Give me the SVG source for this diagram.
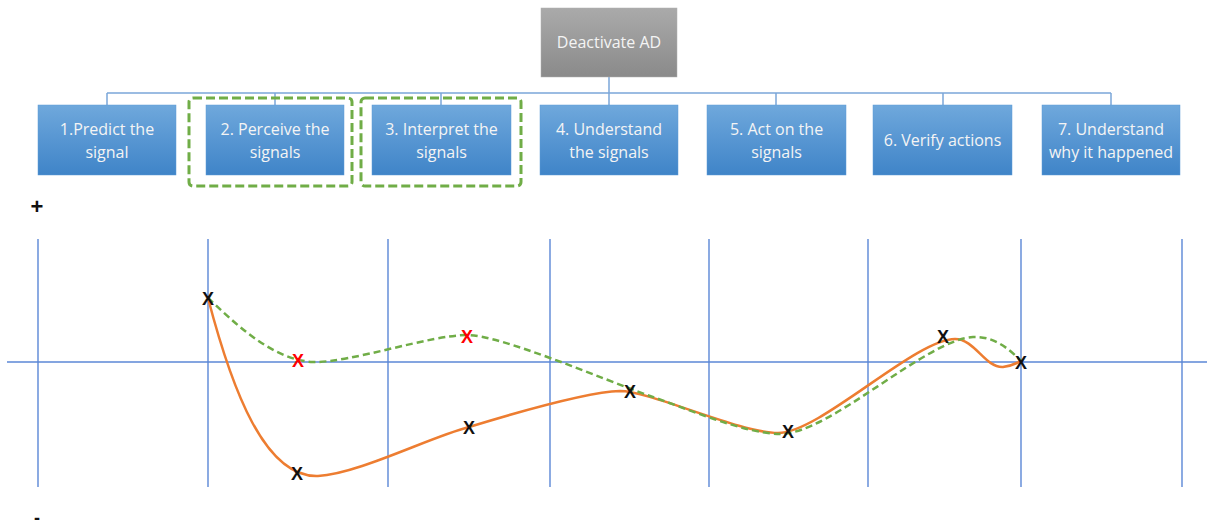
<svg xmlns="http://www.w3.org/2000/svg" width="1207" height="529" viewBox="0 0 1207 529">
<defs>
<linearGradient id="gb" x1="0" y1="0" x2="0" y2="1"><stop offset="0" stop-color="#6fa8dc"/><stop offset="1" stop-color="#3f84c8"/></linearGradient>
<linearGradient id="gg" x1="0" y1="0" x2="0" y2="1"><stop offset="0" stop-color="#aaaaaa"/><stop offset="1" stop-color="#8a8a8a"/></linearGradient>
<style>
.box{fill:url(#gb);stroke:#5d9ad6;stroke-width:0.5}
.top{fill:url(#gg);stroke:#b0b0b0;stroke-width:0.5}
.lbl{font-family:"Open Sans","Noto Sans",sans-serif;font-size:16px;fill:#f4f4f4;text-anchor:middle}
.con{stroke:#7aa6d9;stroke-width:1.5;fill:none}
.hl{fill:none;stroke:#70ad47;stroke-width:3;stroke-dasharray:9 4}
.grid{stroke:#5b87d6;stroke-width:1.4}
.x{font-family:"Liberation Sans",Arial,sans-serif;font-size:18px;font-weight:bold;text-anchor:middle;fill:#111}
.xr{fill:#ff0000}
.sign{font-family:"Liberation Sans",Arial,sans-serif;font-weight:bold;fill:#111;text-anchor:middle}
</style>
</defs>
<rect width="1207" height="529" fill="#ffffff"/>
<g id="connectors">
<line class="con" x1="107" y1="93" x2="1111" y2="93"/>
<line class="con" x1="609" y1="77" x2="609" y2="105"/>
<line class="con" x1="107" y1="93" x2="107" y2="105"/>
<line class="con" x1="275" y1="93" x2="275" y2="105"/>
<line class="con" x1="441" y1="93" x2="441" y2="105"/>
<line class="con" x1="776" y1="93" x2="776" y2="105"/>
<line class="con" x1="943" y1="93" x2="943" y2="105"/>
<line class="con" x1="1111" y1="93" x2="1111" y2="105"/>
</g>
<g id="root"><rect class="top" x="541" y="8" width="136" height="69"/><text class="lbl" x="609" y="48">Deactivate AD</text></g>
<g id="n1"><rect class="box" x="38" y="105" width="138" height="70"/><text class="lbl" x="107" y="135">1.Predict the</text><text class="lbl" x="107" y="158">signal</text></g>
<g id="n2"><rect class="box" x="206" y="105" width="138" height="70"/><text class="lbl" x="275" y="135">2. Perceive the</text><text class="lbl" x="275" y="158">signals</text></g>
<g id="n3"><rect class="box" x="372" y="105" width="139" height="70"/><text class="lbl" x="441.5" y="135">3. Interpret the</text><text class="lbl" x="441.5" y="158">signals</text></g>
<g id="n4"><rect class="box" x="540" y="105" width="138" height="70"/><text class="lbl" x="609" y="135">4. Understand</text><text class="lbl" x="609" y="158">the signals</text></g>
<g id="n5"><rect class="box" x="707" y="105" width="139" height="70"/><text class="lbl" x="776.5" y="135">5. Act on the</text><text class="lbl" x="776.5" y="158">signals</text></g>
<g id="n6"><rect class="box" x="873" y="105" width="139" height="70"/><text class="lbl" x="942.5" y="146">6. Verify actions</text></g>
<g id="n7"><rect class="box" x="1042" y="105" width="138" height="70"/><text class="lbl" x="1111" y="135">7. Understand</text><text class="lbl" x="1111" y="158">why it happened</text></g>
<g id="highlights">
<rect class="hl" x="189" y="98" width="163" height="88" rx="4"/>
<rect class="hl" x="361" y="98" width="160" height="88" rx="4"/>
</g>
<g id="chart">
<line class="grid" x1="7" y1="362" x2="1207" y2="362"/>
<line class="grid" x1="38" y1="239" x2="38" y2="487"/>
<line class="grid" x1="208" y1="239" x2="208" y2="487"/>
<line class="grid" x1="388" y1="239" x2="388" y2="487"/>
<line class="grid" x1="550" y1="239" x2="550" y2="487"/>
<line class="grid" x1="709" y1="239" x2="709" y2="487"/>
<line class="grid" x1="868" y1="239" x2="868" y2="487"/>
<line class="grid" x1="1021" y1="239" x2="1021" y2="487"/>
<line class="grid" x1="1182" y1="239" x2="1182" y2="487"/>
<text class="sign" x="37" y="214" font-size="22">+</text>
<text class="sign" x="37" y="524" font-size="18">-</text>
<path d="M208,298 C232,390 265,478 318,476 C358,474 430,437 469,427 C505,416 585,392 620,391 C650,391 740,433 778,433 C820,433 915,339 955,339 C975,339 985,368 1003,367 C1012,366 1017,363 1021,361" fill="none" stroke="#ed7d31" stroke-width="2.5"/>
<path d="M208,298 C230,318 270,360 313,362 C350,363 430,335 467,335 C500,335 600,378 650,396 C680,406 745,434 780,434 C830,434 925,340 973,337 C995,336 1010,350 1021,361" fill="none" stroke="#70ad47" stroke-width="2.5" stroke-dasharray="7 4"/>
<text class="x" x="208" y="305">X</text>
<text class="x" x="297" y="480">X</text>
<text class="x" x="469" y="434">X</text>
<text class="x" x="630" y="398">X</text>
<text class="x" x="788" y="438">X</text>
<text class="x" x="943" y="343">X</text>
<text class="x" x="1021" y="369">X</text>
<text class="x xr" x="298" y="367">X</text>
<text class="x xr" x="467" y="343">X</text>
</g>
</svg>
